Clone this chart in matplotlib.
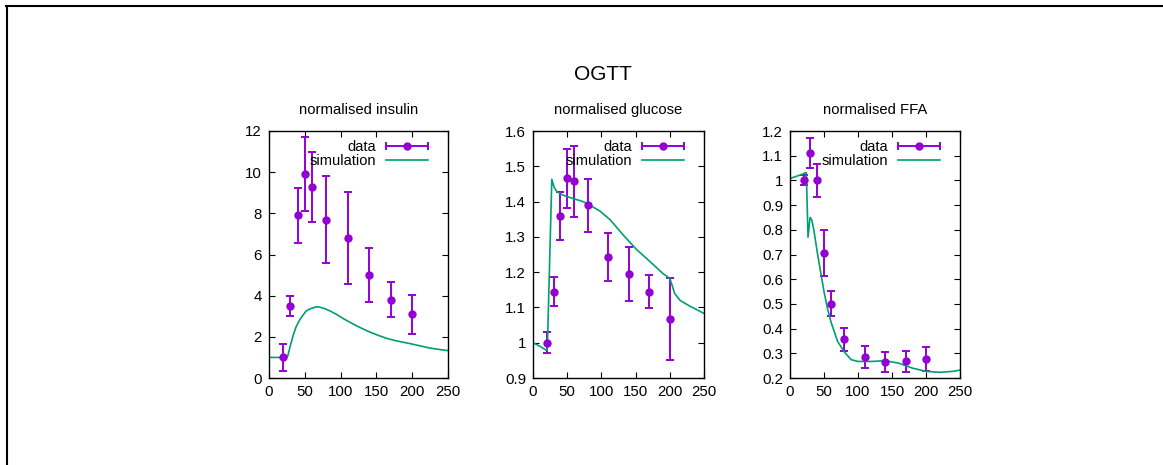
import numpy as np
import matplotlib
matplotlib.use("Agg")
import matplotlib.pyplot as plt
from matplotlib.legend_handler import HandlerErrorbar
from matplotlib.ticker import FormatStrFormatter
from matplotlib.lines import Line2D

plt.rcParams['font.family'] = ['Liberation Sans', 'DejaVu Sans']

# measured data (time in min)
time = [20, 30, 40, 50, 60, 80, 110, 140, 170, 200]
insulin = [1.0, 3.5, 7.9, 9.9, 9.3, 7.7, 6.8, 5.0, 3.8, 3.1]
insulin_err = [0.65, 0.5, 1.35, 1.8, 1.7, 2.1, 2.25, 1.3, 0.85, 0.95]
glucose = [1.0, 1.145, 1.359, 1.466, 1.457, 1.389, 1.242, 1.194, 1.145, 1.067]
glucose_err = [0.03, 0.04, 0.067, 0.084, 0.10, 0.074, 0.068, 0.076, 0.047, 0.116]
ffa = [1.0, 1.111, 1.0, 0.707, 0.501, 0.356, 0.285, 0.265, 0.267, 0.277]
ffa_err = [0.02, 0.06, 0.068, 0.094, 0.052, 0.048, 0.046, 0.041, 0.044, 0.047]

# simulation curves
sim_ins_t = [0, 10, 20, 24, 26, 30, 34, 38, 43, 48, 52, 58, 66, 71, 78, 85, 95, 104,
             113, 122, 131, 141, 152, 164, 176, 187, 197, 206, 215, 224, 237, 250]
sim_ins = [1.0, 1.0, 0.99, 0.99, 1.05, 1.6, 2.1, 2.5, 2.83, 3.08, 3.26, 3.37, 3.46, 3.44,
           3.37, 3.26, 3.08, 2.88, 2.71, 2.54, 2.39, 2.23, 2.08, 1.93, 1.82, 1.74, 1.67,
           1.60, 1.53, 1.46, 1.39, 1.33]
sim_glu_t = [0, 10, 20, 21, 27.5, 31, 35, 44, 58, 73, 83, 98, 113, 132, 151, 171, 190,
             200, 203, 207, 215, 229, 250]
sim_glu = [1.0, 0.99, 0.978, 0.985, 1.463, 1.44, 1.428, 1.418, 1.409, 1.40, 1.39, 1.373,
           1.348, 1.305, 1.265, 1.23, 1.196, 1.182, 1.165, 1.14, 1.12, 1.104, 1.083]
sim_ffa_t = [0, 10, 20, 24, 26.5, 29.5, 32, 35, 40, 45, 50, 55, 60, 70, 80, 90, 100, 120,
             140, 160, 180, 200, 220, 240, 250]
sim_ffa = [1.008, 1.017, 1.027, 1.032, 0.77, 0.85, 0.84, 0.80, 0.711, 0.63, 0.55, 0.483,
           0.429, 0.348, 0.305, 0.274, 0.267, 0.267, 0.27, 0.26, 0.24, 0.227, 0.223,
           0.227, 0.232]

panels = [
    ("normalised insulin", insulin, insulin_err, sim_ins_t, sim_ins, (0, 12), 2),
    ("normalised glucose", glucose, glucose_err, sim_glu_t, sim_glu, (0.9, 1.6), 0.1),
    ("normalised FFA", ffa, ffa_err, sim_ffa_t, sim_ffa, (0.2, 1.2), 0.1),
]

purple = "#9400d3"
green = "#009e73"

W, H = 1163, 465
fig = plt.figure(figsize=(W / 100, H / 100), dpi=100)

# axes boxes in pixels: left, right, top, bottom
boxes = [(269, 448, 131, 378), (533, 704, 131, 378), (790, 960, 131, 378)]

for (title, y, yerr, st, sv, ylim, step), (l, r, t, b) in zip(panels, boxes):
    ax = fig.add_axes([l / W, 1 - b / H, (r - l) / W, (b - t) / H])
    ax.errorbar(time, y, yerr=yerr, fmt='o', color=purple, ms=5, elinewidth=1.4,
                capsize=3, capthick=1.4)
    ax.plot(st, sv, color=green, lw=1.2)
    proxy = ax.errorbar([np.nan], [np.nan], xerr=[1], fmt='o', color=purple, ms=5,
                        elinewidth=1.4, capsize=3, capthick=1.4)
    sim_handle = Line2D([], [], color=green, lw=1.2)
    ax.legend([proxy, sim_handle], ["data", "simulation"], loc="upper right",
              bbox_to_anchor=(1 - 11 / (r - l), 1.0),
              frameon=False, markerfirst=False, fontsize=10.5, handlelength=2.9,
              handletextpad=0.7, labelspacing=0.0, borderpad=0.2, borderaxespad=0.4,
              handler_map={type(proxy): HandlerErrorbar(xerr_size=1.45)})
    ax.set_xlim(0, 250)
    ax.set_ylim(*ylim)
    ax.set_xticks(np.arange(0, 251, 50))
    ax.set_yticks(np.arange(ylim[0], ylim[1] + step / 2, step))
    ax.yaxis.set_major_formatter(FormatStrFormatter("%g"))
    ax.tick_params(direction='in', top=True, right=True, length=4, width=0.8,
                   labelsize=10.8, pad=5)
    for s in ax.spines.values():
        s.set_linewidth(1.0)
    ax.set_title(title, fontsize=10.7, pad=12)

fig.text(603 / W, 1 - 75 / H, "OGTT", ha='center', va='center', fontsize=15)

# screenshot border (top and left)
fig.add_artist(Line2D([6 / W, 1], [1 - 6 / H, 1 - 6 / H], color='black', lw=1.5,
                      transform=fig.transFigure))
fig.add_artist(Line2D([7 / W, 7 / W], [0, 1 - 6 / H], color='black', lw=1.5,
                      transform=fig.transFigure))

fig.savefig("out.png", dpi=100)
